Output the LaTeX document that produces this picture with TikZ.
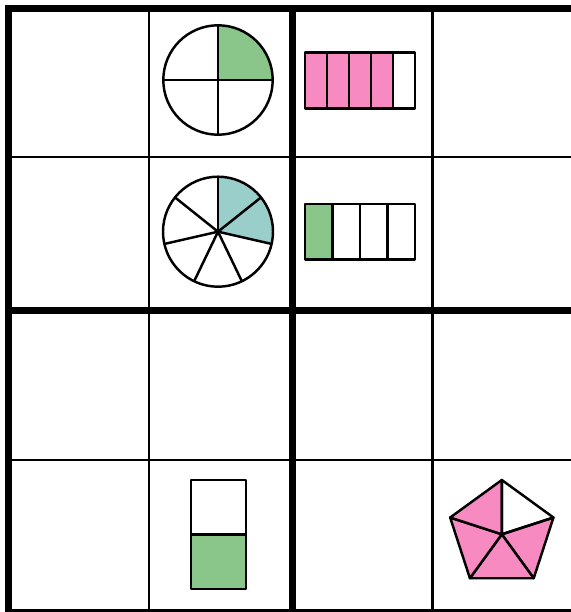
\documentclass[tikz,border=0pt]{standalone}
\definecolor{fracgreen}{RGB}{138,198,138}
\definecolor{fracteal}{RGB}{153,206,202}
\definecolor{fracpink}{RGB}{247,139,193}

\begin{document}
\begin{tikzpicture}[x=0.01cm, y=-0.01cm,
		thinline/.style={line width=0.7pt},
		thickline/.style={line width=2pt},
		part/.style={draw, line width=0.7pt, line join=round}]
			\useasboundingbox (0,0) rectangle (571,612);

			% thin grid lines
			\foreach \x in {149, 432.3}
				\draw [thinline] (\x, 8.5) -- (\x, 612);
			\foreach \y in {157, 460, 610.7}
				\draw [thinline] (8.5, \y) -- (571, \y);

			% thick block lines
			\draw [thickline] (8.5, 612) -- (8.5, 8.5) -- (571, 8.5);
			\draw [thickline] (292.5, 8.5) -- (292.5, 612);
			\draw [thickline] (8.5, 310.7) -- (571, 310.7);

			% circle in quarters
			\coordinate (quarters) at (218, 80);
			\fill [fracgreen] (quarters) -- ++(0:54.7) arc [start angle=0, end angle=-90, radius=54.7] -- cycle;
			\draw [part] (quarters) circle [radius=54.7];
			\draw [part] (quarters) ++(-54.7, 0) -- ++(109.4, 0);
			\draw [part] (quarters) ++(0, -54.7) -- ++(0, 109.4);

			% circle in sevenths
			\coordinate (sevenths) at (218, 231.7);
			\fill [fracteal] (sevenths) -- ++(-90:55) arc [start angle=-90, end angle=12.857, radius=55] -- cycle;
			\draw [part] (sevenths) circle [radius=55];
			\foreach \i in {0,...,6}
				\draw [part] (sevenths) -- ++({\i*360/7-90}:55);

			% bar in fifths
			\foreach \i in {0,...,3}
				\filldraw [part, fill=fracpink] ({305+22*\i}, 52.7) rectangle ++(22, 55.6);
			\draw [part] (393, 52.7) rectangle ++(22, 55.6);

			% bar in quarters
			\filldraw [part, fill=fracgreen] (305, 204) rectangle ++(27.5, 55.3);
			\foreach \i in {1,...,3}
				\draw [part] ({305+27.5*\i}, 204) rectangle ++(27.5, 55.3);

			% upright bar in halves
			\draw [part] (191, 480) rectangle (246, 534.3);
			\filldraw [part, fill=fracgreen] (191, 534.3) rectangle (246, 589);

			% pentagon in fifths
			\begin{scope}[shift={(501.8, 534.3)}]
				\foreach \a in {-18, 54, 126, 198}
					\filldraw [part, fill=fracpink] (0,0) -- (\a:54.3) -- ({\a+72}:54.3) -- cycle;
				\draw [part] (0,0) -- (-90:54.3) -- (-18:54.3) -- cycle;
			\end{scope}
		\end{tikzpicture}
\end{document}
